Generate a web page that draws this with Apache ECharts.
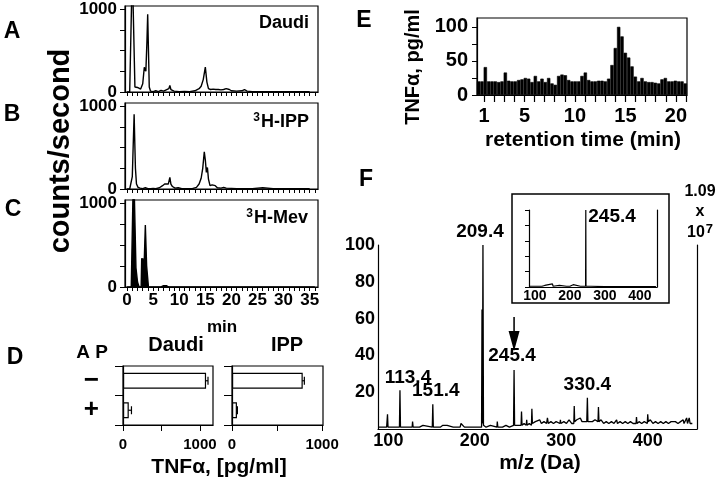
<!DOCTYPE html>
<html>
<head>
<meta charset="utf-8">
<script src="https://cdn.jsdelivr.net/npm/echarts@6/dist/echarts.min.js"></script>
<style>
  html, body { margin: 0; padding: 0; background: #fff; }
  #fig { width: 720px; height: 482px; }
</style>
</head>
<body>
<div id="fig"></div>
<script>
// A-C radioactivity traces: [min, counts/s]
const daudiTrace = [[0,0],[0.5,0],[0.8,5],[1.0,1500],[1.3,1500],[1.5,60],[1.7,40],[2.0,55],[2.3,40],[2.6,35],[2.8,20],
  [3.0,100],[3.3,300],[3.45,320],[3.6,250],[3.8,600],[3.95,940],[4.1,500],[4.25,60],[4.5,10],[5,5],[5.5,15],[6,5],
  [6.5,20],[7,10],[7.5,25],[8.0,40],[8.2,80],[8.4,30],[9,10],[10,5],[11,8],[12,5],[13,15],[13.8,40],[14.2,70],
  [14.6,150],[15.0,300],[15.3,120],[15.6,40],[16,30],[16.5,35],[17,30],[17.5,30],[18,25],[18.5,30],[19,40],
  [19.3,50],[19.6,30],[20,15],[21,10],[22,15],[22.5,30],[23,10],[24,5],[26,5],[28,5],[30,3],[33,3],[35,3]];
const ippTrace = [[0,0],[0.5,0],[0.8,20],[1.0,150],[1.1,370],[1.2,350],[1.35,905],[1.5,500],[1.6,250],[1.8,60],
  [2.1,20],[2.5,10],[3,5],[3.5,15],[4,5],[4.5,5],[5,8],[5.5,5],[6.2,15],[6.8,40],[7.2,60],[7.5,50],[7.9,60],
  [8.2,140],[8.4,60],[8.7,30],[9.2,10],[9.8,15],[10.5,5],[11.5,5],[12.5,5],[13.3,20],[13.8,60],[14.2,130],
  [14.5,250],[14.8,450],[15.0,350],[15.2,200],[15.4,260],[15.6,120],[15.9,40],[16.3,50],[16.6,70],[16.9,40],
  [17.3,15],[18,10],[18.5,20],[19,10],[20,8],[21,5],[22,5],[24,5],[26,15],[26.3,5],[28,5],[31,3],[35,3]];
const mevTrace = [[0,0],[0.8,0],[1.15,10],[1.25,1500],[1.55,1500],[1.7,230],[2.0,60],[2.3,0],[2.7,0],[2.8,340],
  [3.3,330],[3.4,350],[3.5,740],[3.6,730],[3.75,250],[4.1,0],[6.5,0],[7.0,15],[7.3,5],[7.6,15],[8.0,0],[36,0]];
const minuteTicks = [0,1,2,3,4,5,6,7,8,9,10,11,12,13,14,15,16,17,18,19,20,21,22,23,24,25,26,27,28,29,30,31,32,33,34,35,36];
const minuteLabels = [0,5,10,15,20,25,30,35];

// D: TNFa release, [pg/ml]
const apCats = ['\u2212', '+'];
const daudiTnf = [1080, 75];
const daudiErr = [25, 35];
const ippTnf = [785, 55];
const ippErr = [18, 5];

// E: TNFa per HPLC fraction
const fractionTnf = [20,20,41,20,20,20,19,20,33,21,
  20,20,22,23,25,24,19,28,20,24,
  19,25,17,15,28,30,29,22,20,20,
  20,28,33,22,20,20,21,21,20,24,
  44,69,100,86,62,55,42,27,20,25,
  20,19,19,18,17,23,25,20,20,21,
  20,20,17];
const retTicks = [1,2,3,4,5,6,7,8,9,10,11,12,13,14,15,16,17,18,19,20,21];
const retLabels = [1,5,10,15,20];

// F: mass spectrum [m/z, relative intensity]
const msSpectrum = [[89,1],[98,1],[99,8],[99.6,1],[105,1],[112.8,1],[113.4,21],[114,1],[120,1],[127.5,1],[128,4],[128.6,1],
  [136,1],[137,2],[138,1],[140,2],[141,1],[150.8,1],[151.4,13.5],[152,1],[160,1],[163,2],[165,1],[168,2],[170,1],[175,1],
  [183,1],[184,3],[186,2],[188,1],[195,1],[207.8,1],[208.3,65],[208.8,3],[209.4,100],[210,2],[211,3],[213,1],
  [218,2],[220,1],[225.6,1],[226,4],[226.6,1],[232,1],[236,2],[238,3],[240,1],[244.8,2],[245.4,32],[246,2],
  [248,3],[250,2],[253.5,2],[254,9.5],[254.6,2],[257,3],[259.5,2],[260,5],[260.5,2],[263,3],[265.5,2],[266,11],[266.6,3],
  [270,4],[272,3],[275,5],[277,3],[280,4],[283,3],[284,6],[285,3],[288,4],[291,3],[294,4],[296,3],[298.5,3],[299,5],
  [299.5,3],[303,4],[306,3],[309,5],[312,3],[314.5,3],[315,12.5],[315.5,4],[318,5],[320,4],[322,6],[324,4],[326,5],
  [329.5,4],[330.2,17],[330.8,4],[333,5],[336,4],[339,5],[342.5,4],[343,12],[343.6,4],[346,5],[349,3],[352,4],[355,3],
  [358,4],[361,3],[364,5],[365,3],[368,4],[371,3],[374,4],[377,3],[380,4],[383,3],[386.5,3],[387,6.5],[387.6,3],
  [390,4],[393,3],[396,4],[399.5,3],[400,8],[400.6,4],[403,5],[406,3],[409,4],[412,3],[415,4],[418,3],[421,4],[424,3],
  [427,4],[428,5],[429,3],[432,4],[435,3],[438,4],[441,5],[442,3],[445,6],[446,3],[448,6],[449,3],[451.6,3]];
const insetSpectrum = [[85,1],[100,1],[105,3],[107,1],[120,1],[128,2],[130,1],[150,4],[152,1],[170,2],[172,1],
  [190,1],[200,1],[209.4,3],[211,1],[230,1],[244.8,1],[245.4,100],[246,1],[260,1],[300,0.5],[350,0.5],[400,0.5],[446,0.5]];
const mzLabels = [100, 200, 300, 400];
const intensityLabels = [20, 40, 60, 80, 100];
// labelled peaks: [m/z, height, text]
const peakNames = [[209.4, 100, '209.4'], [113.4, 21, '113.4'], [151.4, 13.5, '151.4'], [245.4, 32, '245.4'], [330.2, 17, '330.4']];

const FONT = '"Liberation Sans", Arial, Helvetica, sans-serif';
const BLACK = '#000';
const chart = echarts.init(document.getElementById('fig'));

function txt(x, y, text, size, extra) {
  const el = { type: 'text', x: x, y: y, style: {
    text: text, font: 'bold ' + size + 'px ' + FONT, fill: BLACK,
    align: 'center', verticalAlign: 'middle', textAlign: 'center', textVerticalAlign: 'middle' } };
  if (extra) {
    if (extra.style) Object.assign(el.style, extra.style);
    if (extra.rotation) el.rotation = extra.rotation;
  }
  return el;
}
function supText(x, y, sup, main, size, align) {
  return { type: 'text', x: x, y: y, style: {
    text: '{s|' + sup + '}{m|' + main + '}', fill: BLACK,
    align: align, verticalAlign: 'middle', textAlign: align, textVerticalAlign: 'middle',
    rich: {
      s: { fontSize: Math.round(size * 0.68), fontWeight: 'bold', fontFamily: FONT, padding: [0, 1, Math.round(size * 0.45), 0] },
      m: { fontSize: size, fontWeight: 'bold', fontFamily: FONT }
    } } };
}
function afterSup(x, y, main, sup, size) {
  return { type: 'text', x: x, y: y, style: {
    text: '{m|' + main + '}{s|' + sup + '}', fill: BLACK,
    align: 'center', verticalAlign: 'middle', textAlign: 'center', textVerticalAlign: 'middle',
    rich: {
      s: { fontSize: Math.round(size * 0.8), fontWeight: 'bold', fontFamily: FONT, padding: [0, 0, Math.round(size * 0.5), 1] },
      m: { fontSize: size, fontWeight: 'bold', fontFamily: FONT }
    } } };
}

const plain = v => String(v);
const axLine = { show: true, onZero: false, lineStyle: { color: BLACK, width: 1.2 } };
const lbl = (size, extra) => Object.assign({ color: BLACK, fontWeight: 'bold', fontSize: size, fontFamily: FONT, formatter: plain }, extra);

function traceX(grid, showLabels) {
  return {
    type: 'value', gridIndex: grid, min: -0.4, max: 36.6, position: 'bottom',
    axisLine: axLine, splitLine: { show: false },
    axisTick: { show: true, length: 4, lineStyle: { color: BLACK, width: 1 }, customValues: minuteTicks },
    axisLabel: showLabels ? lbl(17, { margin: 5, customValues: minuteLabels }) : { show: false }
  };
}
function traceY(grid) {
  return {
    type: 'value', gridIndex: grid, min: 0, max: 1040,
    axisLine: axLine, splitLine: { show: false },
    axisTick: { show: true, length: 5, lineStyle: { color: BLACK }, customValues: [0, 250, 500, 750, 1000] },
    axisLabel: lbl(17, { margin: 8, customValues: [0, 1000] })
  };
}
function traceSeries(i, data, fill) {
  const s = {
    type: 'line', xAxisIndex: i, yAxisIndex: i, data: data, showSymbol: false, symbol: 'none',
    clip: true, lineStyle: { color: BLACK, width: 1.4 }, animation: false
  };
  if (fill) s.areaStyle = { color: BLACK, opacity: 1 };
  return s;
}
function tnfX(grid, max) {
  return {
    type: 'value', gridIndex: grid, min: 0, max: max, position: 'bottom',
    axisLine: axLine, splitLine: { show: false },
    axisTick: { show: true, length: 6, lineStyle: { color: BLACK }, customValues: [0, 500, 1000] },
    axisLabel: lbl(15, { margin: 12, customValues: [0, 1000] })
  };
}
function tnfY(grid, showLabels) {
  return {
    type: 'category', gridIndex: grid, data: apCats, inverse: true,
    axisLine: axLine,
    axisTick: { show: true, alignWithLabel: false, length: 8, lineStyle: { color: BLACK } },
    axisLabel: showLabels ? { color: BLACK, fontWeight: 'bold', fontSize: 26, fontFamily: FONT, margin: 24, interval: 0 } : { show: false }
  };
}
function errorSeries(x, y, means, errs) {
  const data = means.map((m, i) => [i, m - errs[i], m + errs[i]]);
  return {
    type: 'custom', xAxisIndex: x, yAxisIndex: y, data: data, encode: { x: [1, 2], y: 0 },
    renderItem: function (params, api) {
      const a = api.coord([api.value(1), api.value(0)]);
      const b = api.coord([api.value(2), api.value(0)]);
      const h = 4;
      const st = { stroke: BLACK, lineWidth: 1.2 };
      return { type: 'group', children: [
        { type: 'line', shape: { x1: a[0], y1: a[1], x2: b[0], y2: b[1] }, style: st },
        { type: 'line', shape: { x1: a[0], y1: a[1] - h, x2: a[0], y2: a[1] + h }, style: st },
        { type: 'line', shape: { x1: b[0], y1: b[1] - h, x2: b[0], y2: b[1] + h }, style: st }
      ] };
    }
  };
}
function barSeries(x, y, data) {
  return {
    type: 'bar', xAxisIndex: x, yAxisIndex: y, data: data, barWidth: 16,
    itemStyle: { color: '#fff', borderColor: BLACK, borderWidth: 1.2 }
  };
}

const boxGrid = { show: true, borderColor: BLACK, borderWidth: 1.2, backgroundColor: 'transparent' };
const arrowPath = 'path://M4.3,0 L5.7,0 L5.7,14 L10,14 L5,34 L0,14 L4.3,14 Z';
const peakOffsets = { '209.4': [-3, 0], '113.4': [8, 0], '151.4': [3, 0], '245.4': [-2, 0], '330.4': [0, 0] };

const option = {
  animation: false,
  backgroundColor: '#fff',
  textStyle: { fontFamily: FONT },
  grid: [
    Object.assign({ left: 125, top: 6, width: 193, height: 86 }, boxGrid),
    Object.assign({ left: 125, top: 103, width: 193, height: 86 }, boxGrid),
    Object.assign({ left: 125, top: 200, width: 193, height: 87 }, boxGrid),
    Object.assign({ left: 123, top: 366, width: 90, height: 59 }, boxGrid),
    Object.assign({ left: 232, top: 366, width: 91, height: 59 }, boxGrid),
    Object.assign({ left: 477, top: 18, width: 210, height: 77 }, boxGrid),
    { left: 378, top: 245, width: 319, height: 184, show: false },
    { left: 529, top: 210, width: 128, height: 77, show: false }
  ],
  xAxis: [
    traceX(0, false), traceX(1, false), traceX(2, true),
    tnfX(3, 1170), tnfX(4, 1010),
    { type: 'category', gridIndex: 5, position: 'top', data: fractionTnf.map((v, i) => i), show: false, boundaryGap: true },
    { type: 'value', gridIndex: 5, position: 'bottom', min: 0.3, max: 21.1, axisLine: axLine, splitLine: { show: false },
      axisTick: { show: true, length: 7, lineStyle: { color: BLACK, width: 1.2 }, customValues: retTicks },
      axisLabel: lbl(20, { margin: 11, customValues: retLabels }) },
    { type: 'value', gridIndex: 6, position: 'bottom', min: 88, max: 457, axisLine: axLine, splitLine: { show: false },
      axisTick: { show: false }, axisLabel: lbl(18, { margin: 3, customValues: mzLabels }) },
    { type: 'value', gridIndex: 7, position: 'bottom', min: 83, max: 449, axisLine: axLine, splitLine: { show: false },
      axisTick: { show: false }, axisLabel: lbl(14, { margin: 2, customValues: mzLabels }) }
  ],
  yAxis: [
    traceY(0), traceY(1), traceY(2),
    tnfY(3, true), tnfY(4, false),
    { type: 'value', gridIndex: 5, min: 0, max: 113, axisLine: axLine, splitLine: { show: false },
      axisTick: { show: true, length: 5, lineStyle: { color: BLACK }, customValues: [0, 25, 50, 75, 100] },
      axisLabel: lbl(20, { margin: 9, customValues: [0, 50, 100] }) },
    { type: 'value', gridIndex: 6, position: 'left', min: 0, max: 100, axisLine: axLine, splitLine: { show: false },
      axisTick: { show: false }, axisLabel: lbl(18, { margin: 3, customValues: intensityLabels }) },
    { type: 'value', gridIndex: 6, position: 'right', min: 0, max: 100, axisLine: axLine,
      splitLine: { show: false }, axisTick: { show: false }, axisLabel: { show: false } },
    { type: 'value', gridIndex: 7, position: 'left', min: 0, max: 100, axisLine: axLine, splitLine: { show: false },
      axisTick: { show: true, length: 4, lineStyle: { color: BLACK }, customValues: [0, 20, 40, 60, 80, 100] },
      axisLabel: { show: false } },
    { type: 'value', gridIndex: 7, position: 'right', min: 0, max: 100, axisLine: axLine,
      splitLine: { show: false }, axisTick: { show: false }, axisLabel: { show: false } }
  ],
  series: [
    traceSeries(0, daudiTrace, false),
    traceSeries(1, ippTrace, false),
    traceSeries(2, mevTrace, true),
    barSeries(3, 3, daudiTnf),
    barSeries(4, 4, ippTnf),
    errorSeries(3, 3, daudiTnf, daudiErr),
    errorSeries(4, 4, ippTnf, ippErr),
    { type: 'bar', xAxisIndex: 5, yAxisIndex: 5, data: fractionTnf, barCategoryGap: '0%',
      itemStyle: { color: BLACK, borderColor: BLACK, borderWidth: 0.6 } },
    { type: 'line', xAxisIndex: 7, yAxisIndex: 6, data: msSpectrum, showSymbol: false, symbol: 'none',
      lineStyle: { color: BLACK, width: 1.3 },
      markPoint: {
        data: peakNames.map(p => ({
          coord: [p[0], p[1]], symbol: 'circle', symbolSize: 1, itemStyle: { color: 'rgba(0,0,0,0)' },
          label: lbl(19, { show: true, position: 'top', distance: p[2] === '245.4' ? 4 : 3, formatter: p[2], offset: peakOffsets[p[2]] })
        })).concat([{
          coord: [245.4, 32], symbol: arrowPath, symbolSize: [11, 34], symbolOffset: [0, -36],
          itemStyle: { color: BLACK }, label: { show: false }
        }])
      } },
    { type: 'line', xAxisIndex: 8, yAxisIndex: 8, data: insetSpectrum, showSymbol: false, symbol: 'none',
      lineStyle: { color: BLACK, width: 1.2 },
      markPoint: { data: [{ coord: [245.4, 100], symbol: 'circle', symbolSize: 1, itemStyle: { color: 'rgba(0,0,0,0)' },
        label: lbl(19, { show: true, position: 'right', distance: 2, offset: [0, 7], formatter: '245.4' }) }] } }
  ],
  graphic: [
    txt(12, 32, 'A', 23), txt(12, 115, 'B', 23), txt(13, 210, 'C', 23), txt(15, 358, 'D', 23),
    txt(364, 21, 'E', 23), txt(366, 180, 'F', 23),
    txt(61, 151, 'counts/second', 29, { rotation: Math.PI / 2 }),
    txt(309, 23, 'Daudi', 18, { style: { align: 'right', textAlign: 'right' } }),
    supText(309, 122, '3', 'H-IPP', 18, 'right'),
    supText(308, 218, '3', 'H-Mev', 18, 'right'),
    txt(222, 327, 'min', 17),
    txt(92, 353, 'A P', 19), txt(176, 345, 'Daudi', 20), txt(287, 345, 'IPP', 20),
    txt(219, 467, 'TNF\u03b1, [pg/ml]', 21),
    txt(413, 67, 'TNF\u03b1, pg/ml', 20, { rotation: Math.PI / 2 }),
    txt(583, 140, 'retention time (min)', 21),
    txt(540, 463, 'm/z (Da)', 21),
    txt(700, 192, '1.09', 16), txt(700, 212, 'x', 16), afterSup(700, 233, '10', '7', 16),
    { type: 'rect', z: 1, shape: { x: 512, y: 194, width: 157, height: 109 },
      style: { fill: 'none', stroke: BLACK, lineWidth: 1.5 } }
  ]
};
chart.setOption(option);
</script>
</body>
</html>
